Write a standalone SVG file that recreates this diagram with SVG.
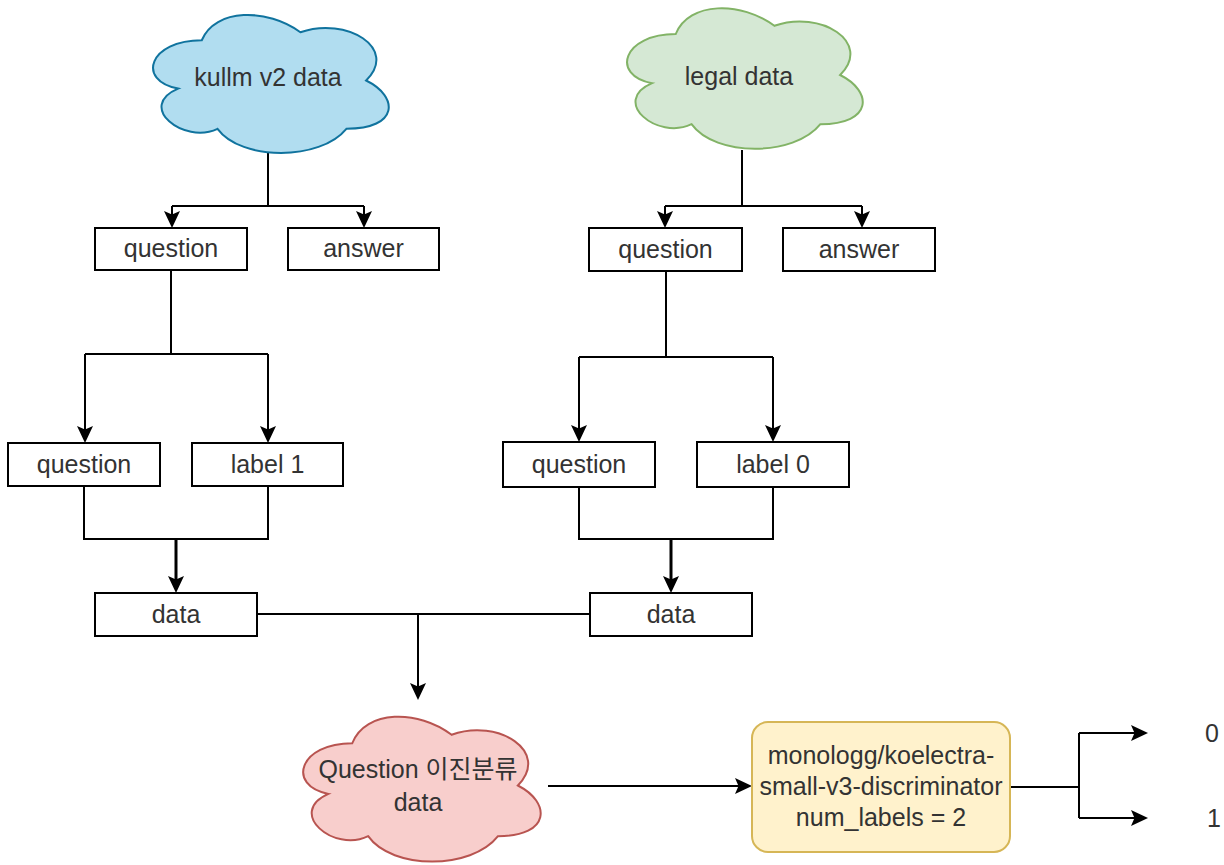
<svg xmlns="http://www.w3.org/2000/svg" width="1224" height="865" viewBox="0 0 1224 865">
  <style>
    .box { fill: #ffffff; stroke: #000000; stroke-width: 2; }
    .lbl { font-family: "Liberation Sans", Arial, "Noto Sans CJK KR", sans-serif; font-size: 25px; fill: #333333; text-anchor: middle; }
    .wire { fill: none; stroke: #000000; stroke-width: 2; }
    .wire.thick { stroke-width: 3; }
    .arr { marker-end: url(#head); }
  </style>
  <defs>
    <marker id="head" viewBox="0 0 17 16" markerWidth="17" markerHeight="16" refX="13" refY="8" orient="auto" markerUnits="userSpaceOnUse">
      <path d="M0 0 L17 8 L0 16 L3.5 8 Z" fill="#000000"/>
    </marker>
  </defs>
  <rect width="1224" height="865" fill="#ffffff"/>

  <!-- connectors -->
  <g id="connectors">
    <!-- kullm branch -->
    <path class="wire" d="M268 153 V206 M172 206 H364"/>
    <path class="wire arr" d="M172 206 V224"/>
    <path class="wire arr" d="M364 206 V224"/>
    <path class="wire" d="M171 270 V354 M85 354 H268"/>
    <path class="wire arr" d="M85 354 V439"/>
    <path class="wire arr" d="M268 354 V439"/>
    <path class="wire" d="M84 486 V539 H268 V486"/>
    <path class="wire thick arr" d="M176 539 V589"/>
    <!-- legal branch -->
    <path class="wire" d="M742 150 V206 M665 206 H862"/>
    <path class="wire arr" d="M665 206 V224"/>
    <path class="wire arr" d="M862 206 V224"/>
    <path class="wire" d="M666 271 V357 M579 357 H773"/>
    <path class="wire arr" d="M579 357 V438"/>
    <path class="wire arr" d="M773 357 V438"/>
    <path class="wire" d="M579 487 V539 H773 V487"/>
    <path class="wire thick arr" d="M671 539 V589"/>
    <!-- merge -->
    <path class="wire" d="M257 614 H590"/>
    <path class="wire arr" d="M418 614 V696"/>
    <!-- classifier -->
    <path class="wire arr" d="M548 786 H748"/>
    <path class="wire" d="M1010 787 H1079 M1079 733 V818"/>
    <path class="wire arr" d="M1079 733 H1144"/>
    <path class="wire arr" d="M1079 818 H1144"/>
  </g>

  <!-- source clouds -->
  <g id="kullm-data">
    <path fill="#b1ddf0" stroke="#10739e" stroke-width="2" d="M201.75 40.25 C149.15 40.25 136 80.5 178.08 88.55 C136 106.26 183.34 144.9 217.53 128.8 C241.2 161 320.1 161 346.4 128.8 C399 128.8 399 96.6 366.13 80.5 C399 48.3 346.4 16.1 300.38 32.2 C267.5 8.05 214.9 8.05 201.75 40.25 Z"/>
    <text class="lbl" x="268" y="86">kullm v2 data</text>
  </g>
  <g id="legal-data">
    <path fill="#d5e8d4" stroke="#82b366" stroke-width="2" d="M675.75 34 C623.15 34 610 75 652.08 83.2 C610 101.24 657.34 140.6 691.53 124.2 C715.2 157 794.1 157 820.4 124.2 C873 124.2 873 91.4 840.13 75 C873 42.2 820.4 9.4 774.38 25.8 C741.5 1.2 688.9 1.2 675.75 34 Z"/>
    <text class="lbl" x="739" y="85">legal data</text>
  </g>

  <!-- kullm side boxes -->
  <g id="question-kullm">
    <rect class="box" x="95" y="228" width="152" height="42"/>
    <text class="lbl" x="171" y="257">question</text>
  </g>
  <g id="answer-kullm">
    <rect class="box" x="288" y="228" width="151" height="42"/>
    <text class="lbl" x="363.5" y="257">answer</text>
  </g>
  <g id="question-kullm-2">
    <rect class="box" x="8" y="443" width="152" height="43"/>
    <text class="lbl" x="84" y="473">question</text>
  </g>
  <g id="label-1">
    <rect class="box" x="192" y="443" width="151" height="43"/>
    <text class="lbl" x="267.5" y="473">label 1</text>
  </g>
  <g id="data-kullm">
    <rect class="box" x="95" y="593" width="162" height="43"/>
    <text class="lbl" x="176" y="623">data</text>
  </g>

  <!-- legal side boxes -->
  <g id="question-legal">
    <rect class="box" x="589" y="228" width="153" height="43"/>
    <text class="lbl" x="665.5" y="258">question</text>
  </g>
  <g id="answer-legal">
    <rect class="box" x="783" y="228" width="152" height="43"/>
    <text class="lbl" x="859" y="258">answer</text>
  </g>
  <g id="question-legal-2">
    <rect class="box" x="503" y="442" width="152" height="45"/>
    <text class="lbl" x="579" y="473">question</text>
  </g>
  <g id="label-0">
    <rect class="box" x="697" y="442" width="152" height="45"/>
    <text class="lbl" x="773" y="473">label 0</text>
  </g>
  <g id="data-legal">
    <rect class="box" x="590" y="593" width="162" height="43"/>
    <text class="lbl" x="671" y="623">data</text>
  </g>

  <!-- merged dataset -->
  <g id="binary-data">
    <path fill="#f8cecc" stroke="#b85450" stroke-width="2" d="M352.25 743.25 C299.25 743.25 286 785.5 328.4 793.95 C286 812.54 333.7 853.1 368.15 836.2 C392 870 471.5 870 498 836.2 C551 836.2 551 802.4 517.88 785.5 C551 751.7 498 717.9 451.63 734.8 C418.5 709.45 365.5 709.45 352.25 743.25 Z"/>
    <text class="lbl" x="418" y="778">Question 이진분류</text>
    <text class="lbl" x="418" y="811">data</text>
  </g>

  <!-- classifier model -->
  <g id="model">
    <rect x="752" y="722" width="258" height="130" rx="16" ry="16" fill="#fff2cc" stroke="#d6b656" stroke-width="2"/>
    <text class="lbl" x="881" y="764">monologg/koelectra-</text>
    <text class="lbl" x="881" y="795">small-v3-discriminator</text>
    <text class="lbl" x="881" y="826">num_labels = 2</text>
  </g>

  <!-- outputs -->
  <g id="out-0">
    <text class="lbl" x="1212" y="742">0</text>
  </g>
  <g id="out-1">
    <text class="lbl" x="1214" y="827">1</text>
  </g>
</svg>
